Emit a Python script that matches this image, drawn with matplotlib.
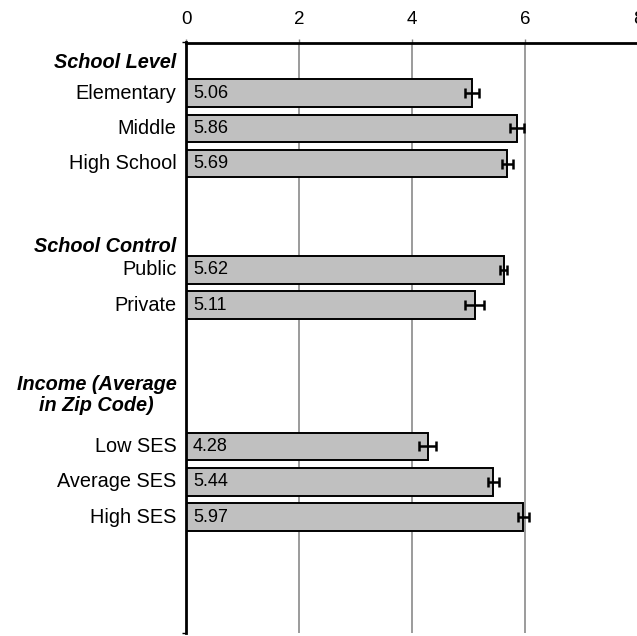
import matplotlib.pyplot as plt

plt.rcParams['font.family'] = ['Liberation Sans', 'DejaVu Sans']

# categories, their row slot on the chart, mean scores and error half-widths
labels = ["Elementary", "Middle", "High School", "Public", "Private",
          "Low SES", "Average SES", "High SES"]
slots = [1, 2, 3, 6, 7, 11, 12, 13]
means = [5.06, 5.86, 5.69, 5.62, 5.11, 4.28, 5.44, 5.97]
errors = [0.12, 0.12, 0.10, 0.07, 0.17, 0.15, 0.10, 0.10]

# group headings and the row slot they sit in
headers = ["School Level", "School Control", "Income (Average\nin Zip Code)"]
header_slots = [0.14, 5.35, 9.55]

xticks = [0, 2, 4, 6, 8]

fig = plt.figure(figsize=(6.37, 6.36), dpi=100)
ax = fig.add_axes([186 / 637, 1 - 633 / 636, 452 / 637, 590.5 / 636])

ax.barh(slots, means, height=0.78, color="#c0c0c0", edgecolor="black",
        linewidth=1.4, zorder=3)
ax.errorbar(means, slots, xerr=errors, fmt="none", ecolor="black",
            elinewidth=1.8, capsize=3.4, capthick=1.8, zorder=4)

# value labels inside each bar, near its base
for s, m in zip(slots, means):
    ax.annotate(f"{m:.2f}", xy=(0, s), xytext=(5, 0), textcoords="offset points",
                ha="left", va="center", fontsize=13, zorder=5)

# category labels
for s, lab in zip(slots, labels):
    ax.annotate(lab, xy=(0, s), xytext=(-7, 0), textcoords="offset points",
                ha="right", va="center", fontsize=14.3, annotation_clip=False)

# group headings
for s, h in zip(header_slots, headers):
    ax.annotate(h, xy=(0, s), xytext=(-7, 0), textcoords="offset points",
                ha="right", va="center", multialignment="center",
                fontsize=14.3, fontweight="bold", fontstyle="italic",
                linespacing=1.1, annotation_clip=False)

ax.set_xlim(0, 8)
ax.set_ylim(16.28, -0.43)

ax.xaxis.tick_top()
ax.set_xticks(xticks)
ax.set_xticklabels([str(t) for t in xticks], fontsize=13.5)
ax.tick_params(axis="x", length=3, width=1, color="#808080", pad=7.5)
ax.set_yticks([-0.43, 16.28])
ax.set_yticklabels([])
ax.tick_params(axis="y", length=3, width=1, color="black")

ax.grid(axis="x", color="#808080", linewidth=1.1, zorder=0)
ax.set_axisbelow(True)

for side in ("right", "bottom"):
    ax.spines[side].set_visible(False)
for side in ("top", "left"):
    ax.spines[side].set_linewidth(2)
    ax.spines[side].set_zorder(6)

fig.savefig("out.png", dpi=100)
